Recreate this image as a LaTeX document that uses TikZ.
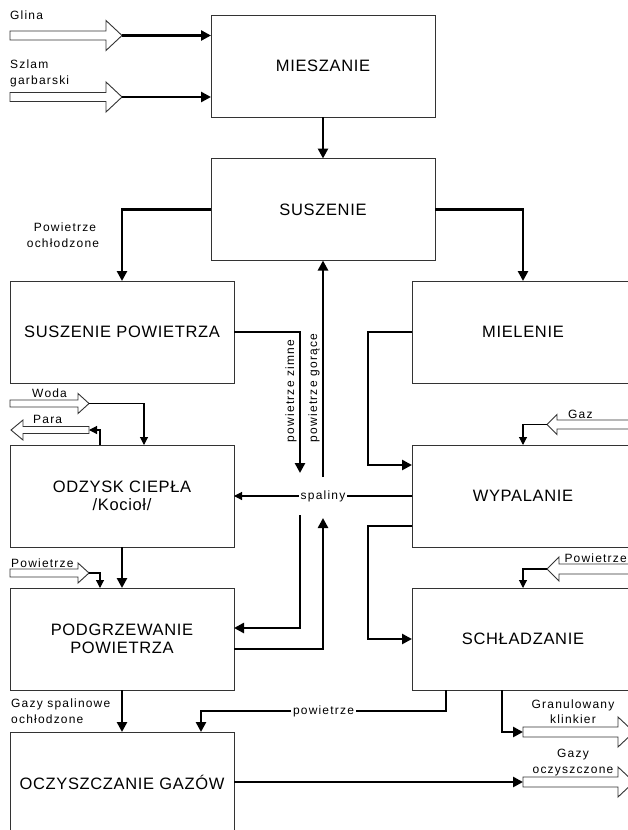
\documentclass[tikz,border=0pt]{standalone}
\usepackage{fontspec}
\setmainfont{Liberation Sans}[LetterSpace=10]
\newfontfamily\boxfamily{Liberation Sans}[LetterSpace=4]
\usetikzlibrary{arrows.meta,calc}
\tikzset{
 proc/.style={draw=black!80, line width=0.9pt, minimum width=224pt, minimum height=102pt,
   inner sep=0pt, outer sep=0pt, font=\boxfamily\fontsize{16.5}{18}\selectfont, align=center},
 rproc/.style={proc, minimum width=222pt},
 flow/.style={line width=2.9pt, -{Triangle[length=10pt,width=10pt]}},
 thinflow/.style={line width=1.1pt, -{Triangle[length=8pt,width=8pt]}},
 lbl/.style={font=\fontsize{12}{15}\selectfont, inner sep=0pt},
 onlbl/.style={lbl, fill=white, inner xsep=2pt, inner ysep=1pt},
 hollow/.style={draw=black!80, line width=0.9pt, fill=white}
}
% name, tail x, tip x, y, shaft half, head half, head length (signed)
\newcommand\hollowarrow[7]{%
 \draw[hollow] (#2,{#4-#5}) -- ({#3-#7},{#4-#5}) -- ({#3-#7},{#4-#6}) -- (#3,#4)
   -- ({#3-#7},{#4+#6}) -- ({#3-#7},{#4+#5}) -- (#2,{#4+#5}) -- cycle;
 \coordinate (#1tail) at (#2,#4); \coordinate (#1tip) at (#3,#4);}
\begin{document}
\begin{tikzpicture}[x=1pt,y=-1pt]
\useasboundingbox (0,0) rectangle (628,830);
\fill[white] (0,0) rectangle (628,830);
\clip (0,0) rectangle (628,830);
% boxes
\node[proc] (mies) at (323,66) {MIESZANIE};
\node[proc] (susz) at (323,209.5) {SUSZENIE};
\node[proc] (suszp) at (122,332) {SUSZENIE POWIETRZA};
\node[rproc] (miel) at (523,332) {MIELENIE};
\node[proc] (odzysk) at (122,496) {ODZYSK CIEPŁA\\/Kocioł/};
\node[rproc] (wyp) at (523,496) {WYPALANIE};
\node[proc] (podg) at (122,639) {PODGRZEWANIE\\POWIETRZA};
\node[rproc] (schl) at (523,639) {SCHŁADZANIE};
\node[proc, minimum height=100pt] (ocz) at (122,782) {OCZYSZCZANIE GAZÓW};
% hollow arrows
\hollowarrow{glina}{10}{122}{35.5}{4.5}{15}{16}
\hollowarrow{szlam}{10}{122}{97}{4.5}{15}{16}
\hollowarrow{woda}{10}{89}{403.5}{3.5}{10}{11}
\hollowarrow{para}{89}{11}{430}{3.5}{10}{-12}
\hollowarrow{powl}{10}{89}{573}{4}{10}{11}
\hollowarrow{gaz}{640}{547}{424.5}{4.5}{10}{-10}
\hollowarrow{powr}{640}{547}{569}{5}{12}{-12}
\hollowarrow{gran}{523}{634}{732}{5}{15}{16}
\hollowarrow{gazy}{523}{634}{782}{5}{15}{16}
% coordinates for free ends
\coordinate (zimneEnd) at (300,473);
\coordinate (goraceStart) at (323,477);
\coordinate (zimneStart) at (300,515);
\coordinate (goraceEnd) at (323,518);
% thick connectors
\draw[flow] (glinatip) -- ($(mies.west)+(0,-30.5)$);
\draw[flow] (szlamtip) -- ($(mies.west)+(0,31)$);
\draw[flow] (mies.south) -- (susz.north);
\draw[flow] (susz.east) -| (miel.north);
\draw[flow] (susz.west) -| (suszp.north);
\draw[flow] (suszp.east) -| (zimneEnd);
\draw[flow] (goraceStart) -- (susz.south);
\draw[flow] (zimneStart) |- ($(podg.east)+(0,-11)$);
\draw[flow] ($(podg.east)+(0,10)$) -| (goraceEnd);
\draw[flow] (miel.west) -- ++(-44,0) |- ($(wyp.west)+(0,-31)$);
\draw[flow] ($(wyp.west)+(0,30)$) -- ++(-44,0) |- (schl.west);
\draw[flow] (odzysk.south) -- (podg.north);
\draw[flow] (podg.south) -- (ocz.north);
\draw[flow] ($(schl.south)+(-77,0)$) -- ++(0,21) -| node[pos=0.25, onlbl] (lpow) {powietrze} ($(ocz.north)+(79,0)$);
\draw[flow] ($(schl.south)+(-21,0)$) |- (grantail);
\draw[flow] (ocz.east) -- (gazytail);
% thin connectors
\draw[thinflow] (wyp.west) -- node[onlbl] (lspal) {spaliny} (odzysk.east);
\draw[thinflow] (wodatip) -| ($(odzysk.north)+(22,0)$);
\draw[thinflow] ($(odzysk.north)+(-22,0)$) |- (paratail);
\draw[thinflow] (powltip) -| ($(podg.north)+(-22,0)$);
\draw[thinflow] (gaztip) -| (wyp.north);
\draw[thinflow] (powrtip) -| (schl.north);
% labels
\node[lbl, anchor=base west] (lglina) at (10,19.5) {Glina};
\node[lbl, anchor=base west] (lszlam) at (10,68) {Szlam};
\node[lbl, anchor=base west] (lgarb) at (10,84) {garbarski};
\node[lbl, anchor=base] (lpo1) at (65,231) {Powietrze};
\node[lbl, anchor=base] (lpo2) at (63,247) {ochłodzone};
\node[lbl, anchor=base west] (lwoda) at (32,397) {Woda};
\node[lbl, anchor=base west] (lpara) at (33,423) {Para};
\node[lbl, anchor=base west] (lpowl) at (11,567) {Powietrze};
\node[lbl, anchor=base west] (lgs1) at (11,707) {Gazy spalinowe};
\node[lbl, anchor=base west] (lgs2) at (11,723) {ochłodzone};
\node[lbl, anchor=base west] (lgaz) at (568,418) {Gaz};
\node[lbl, anchor=base east] (lpowr) at (627,562) {Powietrze};
\node[lbl, anchor=base] (lgr1) at (573,708) {Granulowany};
\node[lbl, anchor=base] (lgr2) at (573,723) {klinkier};
\node[lbl, anchor=base] (lgo1) at (573,757) {Gazy};
\node[lbl, anchor=base] (lgo2) at (573,773) {oczyszczone};
\node[lbl, rotate=90] (lzim) at (291,391) {powietrze zimne};
\node[lbl, rotate=90] (lgor) at (314,388) {powietrze gorące};
\end{tikzpicture}
\end{document}
